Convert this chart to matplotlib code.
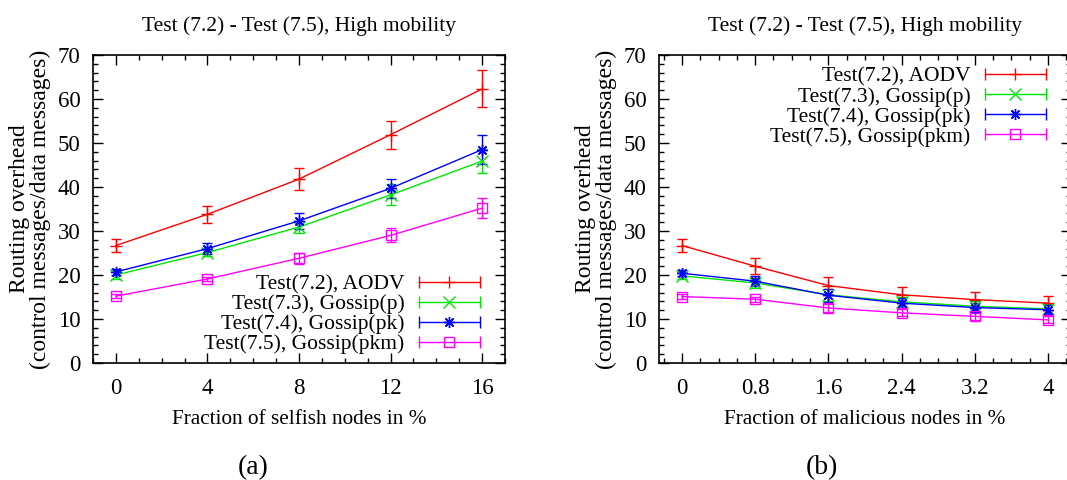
import numpy as np
import matplotlib
matplotlib.use("Agg")
import matplotlib.pyplot as plt
from matplotlib.lines import Line2D
from matplotlib.legend_handler import HandlerLine2D, HandlerTuple
from matplotlib.ticker import MultipleLocator

plt.rcParams['font.family'] = ['Liberation Serif', 'DejaVu Serif']

# data, panel (a): selfish nodes
x_a = [0, 4, 8, 12, 16]
aodv_a = [26.7, 33.8, 41.8, 51.9, 62.3]
aodv_a_err = [1.4, 1.9, 2.5, 3.2, 4.2]
gp_a = [20.0, 25.1, 30.9, 38.2, 45.9]
gp_a_err = [0.8, 0.8, 1.3, 2.4, 2.8]
gpk_a = [20.7, 26.0, 32.3, 39.7, 48.5]
gpk_a_err = [0.7, 1.2, 1.9, 2.2, 3.3]
gpkm_a = [15.2, 19.1, 23.8, 29.0, 35.2]
gpkm_a_err = [0.5, 0.5, 1.2, 1.6, 2.3]

# data, panel (b): malicious nodes
x_b = [0, 0.8, 1.6, 2.4, 3.2, 4]
aodv_b = [26.7, 22.0, 17.6, 15.5, 14.4, 13.6]
aodv_b_err = [1.4, 1.8, 2.0, 1.8, 1.7, 1.6]
gp_b = [19.8, 18.2, 15.5, 13.9, 12.9, 12.3]
gp_b_err = [0.8, 1.2, 1.3, 1.2, 1.1, 1.1]
gpk_b = [20.4, 18.6, 15.4, 13.6, 12.6, 12.1]
gpk_b_err = [0.7, 1.1, 1.5, 1.2, 1.0, 1.0]
gpkm_b = [15.1, 14.5, 12.5, 11.4, 10.6, 9.8]
gpkm_b_err = [0.5, 0.6, 0.9, 0.8, 0.8, 0.8]

labels = ['Test(7.2), AODV', 'Test(7.3), Gossip(p)',
          'Test(7.4), Gossip(pk)', 'Test(7.5), Gossip(pkm)']
colors = ['#ff0000', '#00e600', '#0000ff', '#ff00ff']
markers = ['+', 'x', (8, 2, 0), 's']

title = 'Test (7.2) - Test (7.5), High mobility'
ylabel = 'Routing overhead\n(control messages/data messages)'

fig = plt.figure(figsize=(10.67, 4.8), dpi=100)
W, H = 1067, 480


def panel(left, x, series, errs, xlim, xmin, xlabel, tag, tag_x, legend_loc, legend_anchor):
    ax = fig.add_axes([left / W, (480 - 363) / H, 412 / W, 308 / H])
    for y, e, c, m in zip(series, errs, colors, markers):
        ax.errorbar(x, y, yerr=e, color=c, marker=m, ms=8 if m != 's' else 7,
                    mfc='none', mew=1.0, lw=1.0, elinewidth=1.0, capsize=3.5, capthick=1.0)
    ax.set_xlim(*xlim)
    ax.set_ylim(0, 70)
    ax.set_xticks(x)
    ax.set_xticklabels([('%g' % v) for v in x])
    ax.xaxis.set_minor_locator(MultipleLocator(xmin))
    ax.yaxis.set_major_locator(MultipleLocator(10))
    ax.yaxis.set_minor_locator(MultipleLocator(2))
    ax.tick_params(which='both', direction='in', top=True, right=True, labelsize=16.5, width=1.0)
    ax.tick_params(which='major', length=7)
    ax.tick_params(axis='x', which='major', pad=11)
    ax.tick_params(axis='y', which='major', pad=9)
    ax.tick_params(which='minor', length=3.5)
    for s in ax.spines.values():
        s.set_linewidth(1.2)
    ax.set_title(title, fontsize=15.5, pad=17)
    ax.set_xlabel(xlabel, fontsize=15.3, labelpad=8)
    ax.set_ylabel(ylabel, fontsize=17, labelpad=5, linespacing=0.95)
    fig.text(tag_x / W, 1 - 468 / H, tag, fontsize=20, ha='center', va='center')

    handles = []
    hmap = {}
    for c, m in zip(colors, markers):
        caps = Line2D([], [], color=c, lw=1.0, marker='|', ms=9, mew=1.0)
        mk = Line2D([], [], color=c, lw=0, marker=m, ms=8 if m != 's' else 7, mfc='none', mew=1.0)
        hmap[caps] = HandlerLine2D(numpoints=2)
        hmap[mk] = HandlerLine2D(numpoints=1)
        handles.append((caps, mk))
    hmap[tuple] = HandlerTuple(ndivide=1)
    ax.legend(handles, labels, handler_map=hmap,
              loc=legend_loc, bbox_to_anchor=legend_anchor, frameon=False, markerfirst=False,
              fontsize=15.5, handlelength=3.4, handletextpad=0.4, labelspacing=0.0,
              borderaxespad=0.0)
    return ax


panel(93, x_a, [aodv_a, gp_a, gpk_a, gpkm_a], [aodv_a_err, gp_a_err, gpk_a_err, gpkm_a_err],
      (-1, 17), 1, 'Fraction of selfish nodes in %', '(a)', 253,
      'lower right', (0.975, 0.0))
panel(659, x_b, [aodv_b, gp_b, gpk_b, gpkm_b], [aodv_b_err, gp_b_err, gpk_b_err, gpkm_b_err],
      (-0.25, 4.25), 0.2, 'Fraction of malicious nodes in %', '(b)', 822,
      'upper right', (0.975, 0.99))

fig.savefig('out.png', dpi=100)
